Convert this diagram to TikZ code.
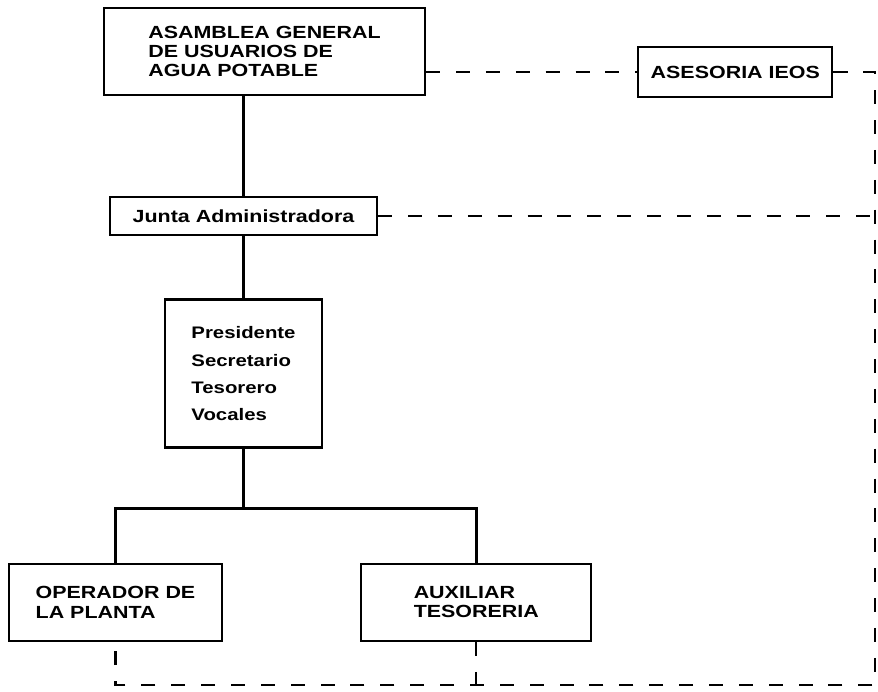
\documentclass[tikz,border=0pt]{standalone}
\usepackage{fontspec}
\newfontfamily\orgfont{Liberation Sans}[FakeStretch=1.22]
\usepackage{tikz}
\usetikzlibrary{positioning}
\tikzset{
        unit/.style={draw, line width=1.3pt, align=left, inner sep=2pt,
                     font=\orgfont\bfseries\fontsize{10}{11}\selectfont},
        link/.style={line width=1.7pt},
        aux/.style={line width=1.3pt, dash pattern=on 8pt off 9pt},
 }
\begin{document}
\begin{tikzpicture}
    \useasboundingbox (0,0) rectangle (17.56,-13.84);

    \node[unit, minimum width=6.42cm, minimum height=1.74cm] (asamblea) at (5.29,-1.03)
        {ASAMBLEA GENERAL\\DE USUARIOS DE\\AGUA POTABLE};
    \node[unit, minimum width=3.88cm, minimum height=1cm, right=4.22cm of asamblea,
          yshift=-0.41cm] (asesoria) {ASESORIA IEOS};
    \node[unit, minimum width=5.34cm, minimum height=0.76cm, below=2cm of asamblea,
          xshift=-0.42cm] (junta) {Junta Administradora};
    \node[unit, minimum width=3.14cm, minimum height=2.96cm, below=1.24cm of junta,
          font=\orgfont\bfseries\fontsize{9.5}{15.4}\selectfont] (mesa)
        {Presidente\\Secretario\\Tesorero\\Vocales};
    \node[unit, minimum width=4.26cm, minimum height=1.54cm, below=2.28cm of mesa,
          xshift=-2.56cm] (operador) {OPERADOR DE\\LA PLANTA};
    \node[unit, minimum width=4.6cm, minimum height=1.54cm, right=2.74cm of operador]
        (auxiliar) {AUXILIAR\\TESORERIA};

    \coordinate[below=1.2cm of mesa] (bar);
    \coordinate (ne) at (17.5,-1.44);
    \coordinate (floor) at (0,-13.7);

    % solid lines of command
    \draw[link] (asamblea.south -| junta) -- (junta);
    \draw[link] (junta) -- (mesa);
    \draw[link] (mesa) -- (bar);
    \draw[link] (operador) |- (bar) -| (auxiliar);

    % dashed lines of support
    \draw[aux] (asamblea.east |- asesoria) -- (asesoria);
    \draw[aux] (asesoria) -- (asesoria -| ne) -- (ne |- floor) -- (operador |- floor) -- (operador);
    \draw[aux] (junta) -- (junta -| ne);
    \draw[aux] (auxiliar) -- (auxiliar |- floor);
\end{tikzpicture}
\end{document}
